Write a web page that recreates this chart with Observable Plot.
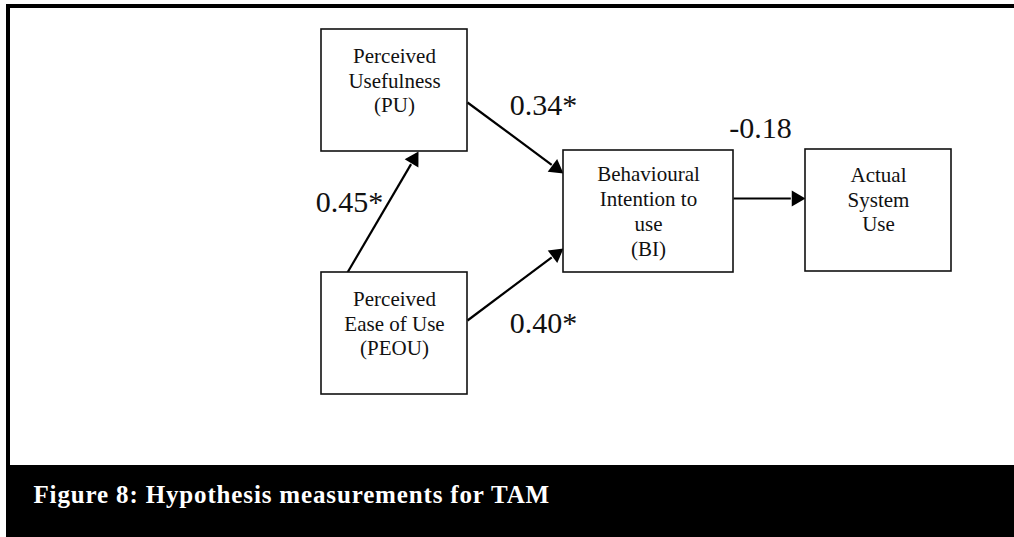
<!DOCTYPE html>
<html>
<head>
<meta charset="utf-8">
<script src="https://cdn.jsdelivr.net/npm/d3@7"></script>
<script src="https://cdn.jsdelivr.net/npm/@observablehq/plot@0.6"></script>
<style>
  html, body { margin: 0; padding: 0; background: white; }
  #chart svg { display: block; }
  #chart g[fill="white"] text { letter-spacing: 0.85px; }
</style>
</head>
<body>
<div id="chart"></div>
<script>
// ---- data ----
const nodeIds = ["PU", "PEOU", "BI", "ASU"];
const nodeLabels = [
  "Perceived\nUsefulness\n(PU)",
  "Perceived\nEase of Use\n(PEOU)",
  "Behavioural\nIntention to\nuse\n(BI)",
  "Actual\nSystem\nUse"
];
const edgeFrom = ["PEOU", "PU", "PEOU", "BI"];
const edgeTo = ["PU", "BI", "BI", "ASU"];
const coefficients = ["0.45*", "0.34*", "0.40*", "-0.18"];
const captionText = "Figure 8: Hypothesis measurements for TAM";

// ---- layout (pixel positions of the diagram) ----
const W = 1014, H = 537;
const boxLayout = {
  PU:   {x1: 321, x2: 467, y1: 29,  y2: 151},
  PEOU: {x1: 321, x2: 467, y1: 272, y2: 394},
  BI:   {x1: 563, x2: 733, y1: 150, y2: 272},
  ASU:  {x1: 805, x2: 951, y1: 149, y2: 271}
};
const textCenterY = {PU: 79, PEOU: 322, BI: 210, ASU: 198};
const edgeLayout = [
  {sx: 347, sy: 272, tx: 418, ty: 151, lx: 349, ly: 202},
  {sx: 467, sy: 102, tx: 563, ty: 173, lx: 543, ly: 105},
  {sx: 467, sy: 320, tx: 563, ty: 248, lx: 543, ly: 323},
  {sx: 733, sy: 198, tx: 805, ty: 198, lx: 760, ly: 128}
];

const nodes = nodeIds.map((id, i) => ({
  id, label: nodeLabels[i], ...boxLayout[id],
  cx: (boxLayout[id].x1 + boxLayout[id].x2) / 2, cy: textCenterY[id]
}));
const headR = 5.9;          // triangle symbol radius
const headBack = 2 * Math.sqrt(headR * headR * Math.PI / (3 * Math.sqrt(3))); // tip offset
const edges = edgeFrom.map((f, i) => {
  const e = edgeLayout[i];
  const ang = Math.atan2(e.ty - e.sy, e.tx - e.sx);
  return {
    from: f, to: edgeTo[i], coef: coefficients[i], ...e,
    ang: ang * 180 / Math.PI,
    hx: e.tx - headBack * Math.cos(ang),
    hy: e.ty - headBack * Math.sin(ang),
    bx: e.tx - 1.6 * headBack * Math.cos(ang),
    by: e.ty - 1.6 * headBack * Math.sin(ang)
  };
});

const frame = [
  {x1: 6, x2: W, y1: 4, y2: 8},     // top rule
  {x1: 6, x2: 10, y1: 4, y2: 466}   // left rule
];
const band = [{x1: 6, x2: W, y1: 465, y2: H}];
const caption = [{text: captionText, x: 33, y: 494}];

const serif = "'Liberation Serif', 'Times New Roman', Times, serif";

const chart = Plot.plot({
  width: W,
  height: H,
  margin: 0,
  x: {domain: [0, W], range: [0, W], axis: null},
  y: {domain: [0, H], range: [0, H], axis: null},
  style: {background: "white"},
  marks: [
    Plot.rect(frame, {x1: "x1", x2: "x2", y1: "y1", y2: "y2", fill: "black"}),
    Plot.rect(band, {x1: "x1", x2: "x2", y1: "y1", y2: "y2", fill: "black"}),
    Plot.link(edges, {x1: "sx", y1: "sy", x2: "bx", y2: "by", stroke: "black", strokeWidth: 2.2}),
    Plot.dot(edges, {x: "hx", y: "hy", symbol: "triangle", r: headR, rotate: d => d.ang + 90, fill: "black", stroke: "none"}),
    Plot.rect(nodes, {x1: "x1", x2: "x2", y1: "y1", y2: "y2", fill: "white", stroke: "#111", strokeWidth: 1.6}),
    Plot.text(nodes, {x: "cx", y: "cy", text: "label", fontSize: 21, lineHeight: 1.19, fontFamily: serif, fill: "#111", textAnchor: "middle", lineAnchor: "middle"}),
    Plot.text(edges, {x: "lx", y: "ly", text: "coef", fontSize: 30, fontFamily: serif, fill: "#111", textAnchor: "middle", lineAnchor: "middle"}),
    Plot.text(caption, {x: "x", y: "y", text: "text", fontSize: 25, fontWeight: "bold", fontFamily: serif, fill: "white", textAnchor: "start", lineAnchor: "middle"})
  ]
});
document.getElementById("chart").append(chart);
</script>
</body>
</html>
